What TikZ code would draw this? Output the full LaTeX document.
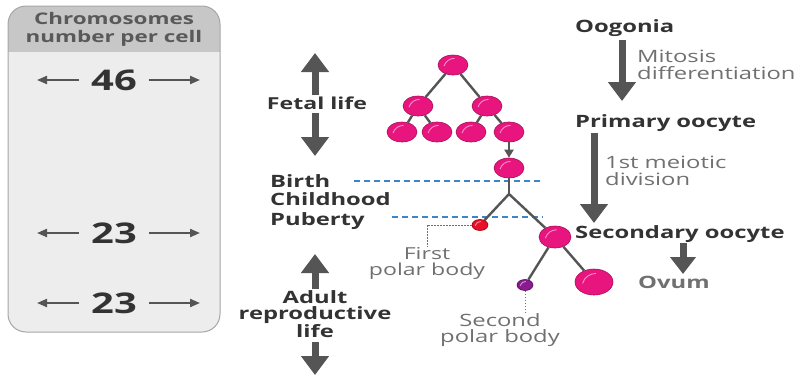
\documentclass[tikz,border=0pt]{standalone}
\usepackage{fontspec}
\setmainfont{Open Sans}[FakeStretch=1.4]
\usetikzlibrary{arrows.meta,shapes.geometric}
\definecolor{txt}{HTML}{333333}
\definecolor{gtxt}{HTML}{707070}
\definecolor{arr}{HTML}{555555}
\definecolor{cellc}{HTML}{E8157E}
\definecolor{celld}{HTML}{A80F5A}
\definecolor{pbred}{HTML}{E8102A}
\definecolor{pbpur}{HTML}{8A1A90}
\definecolor{dashblue}{HTML}{3A86C8}
\tikzset{
  cell/.style={ellipse, inner sep=0pt, minimum width=30pt, minimum height=20pt, fill=cellc, draw=celld, line width=0.6pt,
    path picture={\draw[white, opacity=0.55, line width=0.9pt]
      ([xshift=-0.30*\pgfkeysvalueof{/pgf/minimum width}, yshift=-0.05*\pgfkeysvalueof{/pgf/minimum height}]path picture bounding box.center)
      to[bend left=35] ([xshift=0.05*\pgfkeysvalueof{/pgf/minimum width}, yshift=0.33*\pgfkeysvalueof{/pgf/minimum height}]path picture bounding box.center);}},
  link/.style={draw=arr, line width=2.4pt},
  bigarr/.style={draw=arr, line width=7pt, -{Triangle[width=27pt,length=19pt]}},
  thinarr/.style={draw=arr, line width=2pt, -{Triangle[width=8pt,length=10pt]}},
  bold/.style={font=\bfseries\fontsize{17}{18}\selectfont, text=txt, inner sep=0pt},
  note/.style={font=\fontsize{17}{17}\selectfont, text=gtxt, inner sep=0pt, align=left},
  num/.style={font=\bfseries\fontsize{28.5}{30}\selectfont, text=txt, inner sep=0pt},
  dashline/.style={draw=dashblue, line width=1.2pt, dash pattern=on 6pt off 4pt},
  dotline/.style={draw=gtxt, line width=1pt, dash pattern=on 1.5pt off 1.5pt},
}
\begin{document}
\begin{tikzpicture}[x=1pt,y=-1pt]
\useasboundingbox (0,0) rectangle (797,376);
% left panel
\fill[fill=black!7, rounded corners=18pt] (8,6) rectangle (220,332);
\begin{scope}
\clip[rounded corners=18pt] (8,6) rectangle (220,332);
\fill[black!22] (8,6) rectangle (220,52);
\end{scope}
\draw[black!35, line width=1pt, rounded corners=18pt] (8,6) rectangle (220,332);
\node[bold, align=center, font=\bfseries\fontsize{16}{18}\selectfont, text=black!65] (head) at (114,29) {Chromosomes\\number per cell};
\node[num] (n46) at (114,80) {46};
\node[num] (n23a) at (114,233) {23};
\node[num] (n23b) at (114,303) {23};
\coordinate (l46) at (37,80); \coordinate (r46) at (200,80);
\coordinate (l23a) at (37,233); \coordinate (r23a) at (200,233);
\coordinate (l23b) at (37,303); \coordinate (r23b) at (200,303);
\draw[thinarr] ([xshift=-12pt]n46.west) -- (l46);
\draw[thinarr] ([xshift=12pt]n46.east) -- (r46);
\draw[thinarr] ([xshift=-12pt]n23a.west) -- (l23a);
\draw[thinarr] ([xshift=12pt]n23a.east) -- (r23a);
\draw[thinarr] ([xshift=-12pt]n23b.west) -- (l23b);
\draw[thinarr] ([xshift=12pt]n23b.east) -- (r23b);
% middle labels
\node[bold, font=\bfseries\fontsize{16.5}{18}\selectfont, anchor=base] (fetal) at (317,109) {Fetal life};
\coordinate (fup0) at (315,95); \coordinate (fup) at (315,53);
\coordinate (fdn0) at (315,113); \coordinate (fdn) at (315,156);
\draw[bigarr] (fup0) -- (fup);
\draw[bigarr] (fdn0) -- (fdn);
\node[bold, anchor=base west] (birth) at (270,187) {Birth};
\node[bold, anchor=base west] (child) at (270,205) {Childhood};
\node[bold, anchor=base west] (pub) at (270,225) {Puberty};
\node[bold, align=center, font=\bfseries\fontsize{17}{15.5}\selectfont] (adult) at (315,314) {Adult\\reproductive\\life};
\coordinate (aup0) at (315,289); \coordinate (aup) at (315,254);
\coordinate (adn0) at (315,342); \coordinate (adn) at (315,375);
\draw[bigarr] (aup0) -- (aup);
\draw[bigarr] (adn0) -- (adn);
% dashed lines
\coordinate (d1a) at (354,181); \coordinate (d1b) at (543,181);
\coordinate (d2a) at (392,217); \coordinate (d2b) at (543,217);
\draw[dashline] (d1a) -- (d1b);
\draw[dashline] (d2a) -- (d2b);
% tree
\node[cell] (c1) at (453,65) {};
\node[cell] (c2a) at (418,106) {};
\node[cell] (c2b) at (487,106) {};
\node[cell] (c3a) at (402,132) {};
\node[cell] (c3b) at (437,132) {};
\node[cell] (c3c) at (471,132) {};
\node[cell] (c3d) at (509,132) {};
\node[cell] (c4) at (509,168) {};
\coordinate (br) at (509,194);
\node[cell, fill=pbred, draw=red!60!black, minimum width=16pt, minimum height=11pt] (pb1) at (480,225) {};
\node[cell, minimum width=32pt, minimum height=22pt] (so) at (555,237) {};
\node[cell, fill=pbpur, draw=pbpur!60!black, minimum width=16pt, minimum height=11pt] (pb2) at (525,285) {};
\node[cell, minimum width=38pt, minimum height=26pt] (ov) at (594,282) {};
\draw[link] (c1) -- (c2a);
\draw[link] (c1) -- (c2b);
\draw[link] (c2a) -- (c3a);
\draw[link] (c2a) -- (c3b);
\draw[link] (c2b) -- (c3c);
\draw[link] (c2b) -- (c3d);
\draw[draw=arr, line width=2pt, -{Triangle[width=9pt,length=8pt]}] (c3d) -- (c4);
\draw[link] (c4) -- (br);
\draw[link] (br) -- (pb1);
\draw[link] (br) -- (so);
\draw[link] (so) -- (pb2);
\draw[link] (so) -- (ov);
% polar body labels
\node[note, align=center, font=\fontsize{16.5}{16}\selectfont] (fpl) at (427,263) {First\\polar body};
\draw[dotline] (pb1.west) -| (fpl.north);
\node[note, align=center, font=\fontsize{17}{16}\selectfont] (spl) at (500,330) {Second\\polar body};
\draw[dotline] (pb2.south) -- (pb2.south |- spl.north);
% right column
\node[bold, anchor=base west] (oog) at (575,32) {Oogonia};
\node[note, anchor=west] (mit) at (637,65) {Mitosis\\differentiation};
\node[bold, anchor=base west] (prim) at (575,127) {Primary oocyte};
\node[note, anchor=west] (mei) at (605,171) {1st meiotic\\division};
\node[bold, anchor=base west] (sec) at (575,238) {Secondary oocyte};
\node[bold, anchor=base west, text=gtxt] (ovum) at (638,288) {Ovum};
\coordinate (a1s) at (622,40); \coordinate (a1e) at (622,101);
\coordinate (a2s) at (594,133); \coordinate (a2e) at (594,223);
\coordinate (a3s) at (683,243); \coordinate (a3e) at (683,274);
\draw[bigarr] (a1s) -- (a1e);
\draw[bigarr] (a2s) -- (a2e);
\draw[bigarr, -{Triangle[width=25pt,length=17pt]}] (a3s) -- (a3e);
\end{tikzpicture}
\end{document}
